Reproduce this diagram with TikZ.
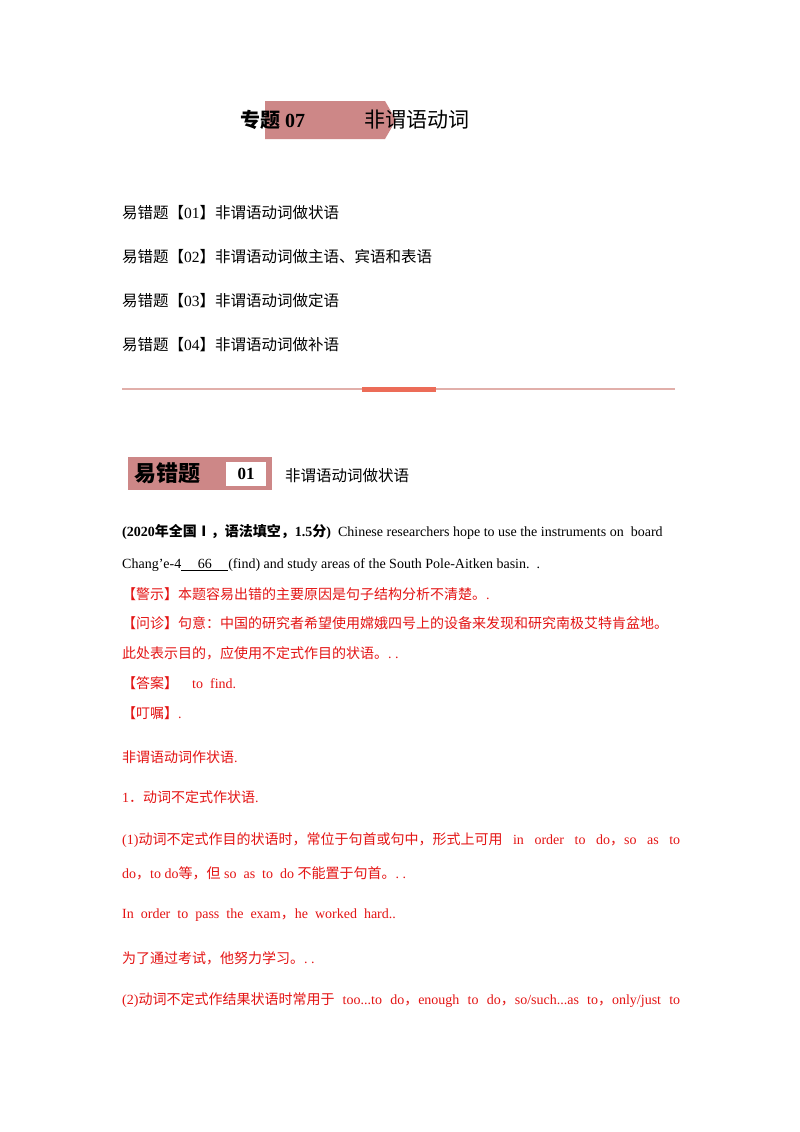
\documentclass[tikz,border=0pt]{standalone}
\usepackage{fontspec}
\setmainfont{Liberation Serif}
\newfontfamily\cjk{Noto Sans CJK SC}
\newcommand{\zh}[1]{{\cjk #1}}
\definecolor{zred}{RGB}{228,20,20}
\definecolor{banner}{RGB}{205,135,135}
\definecolor{lineP}{RGB}{225,175,170}
\definecolor{barO}{RGB}{236,108,88}
\begin{document}
\begin{tikzpicture}[x=1pt,y=-1pt,
  txt/.style={anchor=west,inner sep=0pt,font=\fontsize{14}{16}\selectfont},
  ltxt/.style={anchor=west,inner sep=0pt,font=\fontsize{15.5}{17}\selectfont},
  rtxt/.style={txt,text=zred}]
\useasboundingbox[fill=white] (0,0) rectangle (800,1132);
% title
\fill[banner] (265,101) -- (385,101) -- (396,120) -- (385,139) -- (265,139) -- cycle;
\node[anchor=west,inner sep=0pt,font=\fontsize{20}{22}\selectfont\bfseries] (t1) at (240,120) {\zh{专题} 07};
\node[anchor=west,inner sep=0pt,font=\fontsize{21}{22}\selectfont] (t2) at (364,120) {\zh{非谓语动词}};
% list
\node[ltxt] (l1) at (122,213) {\zh{易错题【}01\zh{】非谓语动词做状语}};
\node[ltxt] (l2) at (122,257) {\zh{易错题【}02\zh{】非谓语动词做主语、宾语和表语}};
\node[ltxt] (l3) at (122,301) {\zh{易错题【}03\zh{】非谓语动词做定语}};
\node[ltxt] (l4) at (122,345) {\zh{易错题【}04\zh{】非谓语动词做补语}};
% divider
\draw[lineP,line width=1.2pt] (122,389) -- (675,389);
\fill[barO] (362,386.5) rectangle (436,391.5);
% section banner
\fill[banner] (128,457) rectangle (272,490);
\node[anchor=west,inner sep=0pt,font=\fontsize{22}{24}\selectfont\bfseries] (b1) at (134,473) {\zh{易错题}};
\node[fill=white,minimum width=40,minimum height=24,inner sep=0pt,font=\fontsize{17}{18}\selectfont\bfseries] (b2) at (246,474) {01};
\node[txt,font=\fontsize{15.5}{17}\selectfont] (b3) at (285,476) {\zh{非谓语动词做状语}};
% question
\node[txt] (q1) at (122,532) {\textbf{(2020\zh{年全国Ⅰ，语法填空，}1.5\zh{分})}\ \ Chinese researchers hope to use the instruments on\ \ board};
\node[txt] (q2) at (122,565) {Chang'e-4\underline{\hspace{6pt}\ \ \ 66\ \ \ \hspace{6pt}}(find) and study areas of the South Pole-Aitken basin.\ \ .};
\node[rtxt] (r1) at (122,594) {\zh{【警示】本题容易出错的主要原因是句子结构分析不清楚。}.};
\node[rtxt] (r2) at (122,623) {\zh{【问诊】句意：中国的研究者希望使用嫦娥四号上的设备来发现和研究南极艾特肯盆地。}};
\node[rtxt] (r3) at (122,653) {\zh{此处表示目的，应使用不定式作目的状语。}.\ .};
\node[rtxt] (r4) at (122,683) {\zh{【答案】}\ \ \ \ to\ \ find.};
\node[rtxt] (r5) at (122,713) {\zh{【叮嘱】}.};
\node[rtxt] (r6) at (122,757) {\zh{非谓语动词作状语}.};
\node[rtxt] (r7) at (122,797) {1\zh{．动词不定式作状语}.};
\node[rtxt] (r8) at (122,840) {\makebox[558pt][s]{(1)\zh{动词不定式作目的状语时，常位于句首或句中，形式上可用} in order to do\zh{，}so as to}};
\node[rtxt] (r9) at (122,873) {do\zh{，}to do\zh{等，但} so\ \ as\ \ to\ \ do \zh{不能置于句首。}.\ .};
\node[rtxt] (r10) at (122,915) {In\ \ order\ \ to\ \ pass\ \ the\ \ exam\zh{，}he\ \ worked\ \ hard..};
\node[rtxt] (r11) at (122,958) {\zh{为了通过考试，他努力学习。}.\ .};
\node[rtxt] (r12) at (122,1000) {\makebox[558pt][s]{(2)\zh{动词不定式作结果状语时常用于} too...to do\zh{，}enough to do\zh{，}so/such...as to\zh{，}only/just to}};
\end{tikzpicture}
\end{document}
